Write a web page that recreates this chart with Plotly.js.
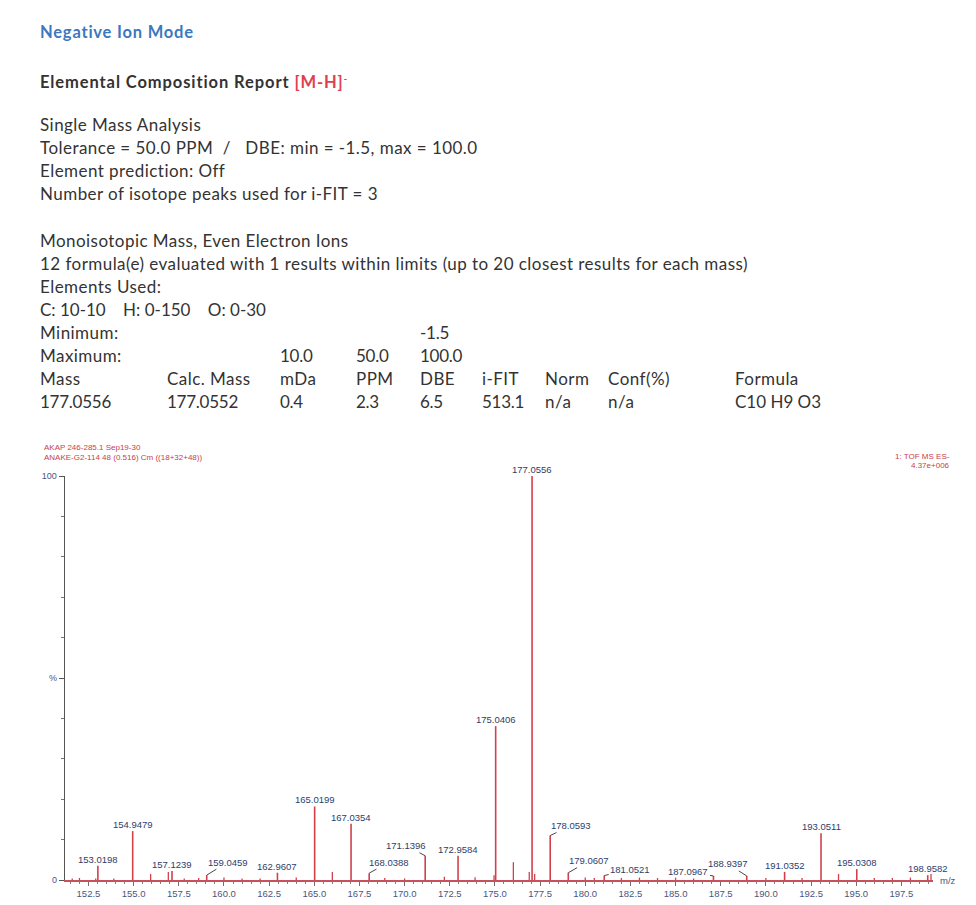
<!DOCTYPE html>
<html>
<head>
<meta charset="utf-8">
<script src="https://cdn.plot.ly/plotly-3.0.1.min.js"></script>
<style>
  html, body { margin: 0; padding: 0; background: #ffffff; }
  #page { position: relative; width: 976px; height: 905px; overflow: hidden; }
  #hdr { position: absolute; left: 0; top: 0; width: 976px; height: 430px; font-family: Lato, "Open Sans", sans-serif; color: #333; }
  .t { position: absolute; white-space: pre; font-size: 17px; line-height: 20px; letter-spacing: 0.45px; }
  #chart { position: absolute; left: 0; top: 0; width: 976px; height: 905px; }
</style>
</head>
<body>
<div id="page">
  <div id="chart"></div>
  <div id="hdr"></div>
</div>
<script>
// ---------------- data ----------------
const reportTitle = "Negative Ion Mode";
const reportHeading = "Elemental Composition Report";
const ionLabel = "[M-H]";
const infoLines = [
  "Single Mass Analysis",
  "Tolerance = 50.0 PPM  /   DBE: min = -1.5, max = 100.0",
  "Element prediction: Off",
  "Number of isotope peaks used for i-FIT = 3"
];
const infoLines2 = [
  "Monoisotopic Mass, Even Electron Ions",
  "12 formula(e) evaluated with 1 results within limits (up to 20 closest results for each mass)",
  "Elements Used:",
  "C: 10-10    H: 0-150    O: 0-30"
];
const tableMinRow = ["Minimum:", "", "", "", "-1.5", "", "", "", ""];
const tableMaxRow = ["Maximum:", "", "10.0", "50.0", "100.0", "", "", "", ""];
const tableHeader = ["Mass", "Calc. Mass", "mDa", "PPM", "DBE", "i-FIT", "Norm", "Conf(%)", "Formula"];
const tableRow = ["177.0556", "177.0552", "0.4", "2.3", "6.5", "513.1", "n/a", "n/a", "C10 H9 O3"];

const sampleLine1 = "AKAP 246-285.1 Sep19-30";
const sampleLine2 = "ANAKE-G2-114 48 (0.516) Cm ((18+32+48))";
const scanLine1 = "1: TOF MS ES-";
const scanLine2 = "4.37e+006";

// labelled peaks (m/z, relative intensity %)
const peakMz  = [153.0198, 154.9479, 157.1239, 159.0459, 162.9607, 165.0199, 167.0354, 168.0388,
                 171.1396, 172.9584, 175.0406, 177.0556, 178.0593, 179.0607, 181.0521, 187.0967,
                 188.9397, 191.0352, 193.0511, 195.0308, 198.9582];
const peakInt = [3.5, 12.1, 2.2, 1.2, 1.8, 18.2, 13.9, 1.7,
                 6.0, 6.0, 38.1, 100, 11.0, 1.8, 1.1, 1.0,
                 1.0, 2.0, 11.6, 2.7, 1.2];
// unlabelled peaks and baseline noise
const minorMz  = [151.6, 152.0, 152.9, 153.9, 155.94, 156.92, 157.8, 158.6, 160.0, 161.0, 162.0, 164.0,
                  166.0, 168.9, 170.0, 172.2, 173.9, 174.95, 176.02, 176.9, 177.2, 180.0, 180.5, 182.0,
                  183.0, 184.0, 185.0, 186.0, 190.0, 192.0, 194.02, 196.0, 197.0, 198.0, 199.14];
const minorInt = [0.4, 0.5, 0.4, 0.4, 1.5, 2.0, 0.4, 0.5, 0.6, 0.4, 0.4, 0.6,
                  2.0, 0.5, 0.4, 0.8, 0.7, 1.2, 4.4, 2.0, 1.5, 0.6, 0.5, 0.5,
                  0.6, 0.5, 0.6, 0.4, 0.5, 0.5, 1.5, 0.5, 0.5, 0.6, 1.5];

const xTickVals = [152.5, 155.0, 157.5, 160.0, 162.5, 165.0, 167.5, 170.0, 172.5, 175.0,
                   177.5, 180.0, 182.5, 185.0, 187.5, 190.0, 192.5, 195.0, 197.5];
const yTickVals = [0, 50, 100];
const yTickText = ["0", "%", "100"];

// ---------------- header (HTML text) ----------------
const hdr = document.getElementById('hdr');
function put(txt, x, y, style) {
  const d = document.createElement('div');
  d.className = 't';
  d.style.left = x + 'px';
  d.style.top = y + 'px';
  if (style) Object.assign(d.style, style);
  d.innerHTML = txt;
  hdr.appendChild(d);
  return d;
}
put(reportTitle, 40, 22, {color: '#3b78c0', fontWeight: 'bold', fontSize: '16.5px', letterSpacing: '0.8px'});
put(reportHeading + ' <span style="color:#e0404e">' + ionLabel + '<sup style="font-size:9px">-</sup></span>', 40, 68,
    {fontWeight: 'bold', fontSize: '16.5px', letterSpacing: '0.9px'});
infoLines.forEach((s, i) => put(s, 40, 115 + i * 23));
infoLines2.forEach((s, i) => put(s, 40, 231 + i * 23, i === 3 ? {letterSpacing: '0px'} : null));
const colX = [40, 167, 280, 356, 420, 482, 545, 608, 735];
[tableMinRow, tableMaxRow, tableHeader, tableRow].forEach((row, r) => {
  row.forEach((c, k) => {
    if (!c) return;
    const numeric = /^[-\d.]+$/.test(c);
    put(c, colX[k], 323 + r * 23, numeric ? {letterSpacing: '-0.25px'} : (c === 'C10 H9 O3' ? {letterSpacing: '0px'} : null));
  });
});

// ---------------- chart ----------------
const red = '#d2404c';
function sticks(xs, ys) {
  const X = [], Y = [];
  xs.forEach((x, i) => { X.push(x, x, null); Y.push(0, ys[i], null); });
  return {X, Y};
}
const major = sticks(peakMz, peakInt);
const minor = sticks(minorMz, minorInt);

const traces = [
  {x: minor.X, y: minor.Y, type: 'scatter', mode: 'lines', line: {color: red, width: 1.3}, hoverinfo: 'skip', showlegend: false, cliponaxis: false},
  {x: major.X, y: major.Y, type: 'scatter', mode: 'lines', line: {color: red, width: 1.6}, hoverinfo: 'skip', showlegend: false, cliponaxis: false}
];

// leader-line offsets (pixels) for labels placed off the peak
const leader = {
  "159.0459": [21, -13], "168.0388": [20, -11], "171.1396": [-19, -10], "178.0593": [21, -10],
  "179.0607": [21, -12], "181.0521": [26, -6], "187.0967": [-25, -4], "188.9397": [-19, -12]
};
const labColor = '#2e3d6b';
const annotations = peakMz.map((m, i) => {
  const key = m.toFixed(4);
  const base = {x: m, y: peakInt[i], xref: 'x', yref: 'y', text: key,
                font: {family: 'Liberation Sans, Arial, sans-serif', size: 9.5, color: labColor}};
  if (leader[key]) {
    return Object.assign(base, {showarrow: true, arrowhead: 0, arrowwidth: 0.9, arrowcolor: '#333',
                                ax: leader[key][0], ay: leader[key][1], standoff: 0, startstandoff: 0});
  }
  return Object.assign(base, {showarrow: false, yanchor: 'bottom', yshift: -1});
});
const smallFont = {family: 'Liberation Sans, Arial, sans-serif', size: 8, color: '#c8404c'};
annotations.push(
  {xref: 'paper', yref: 'paper', x: -0.027, y: 1.055, xanchor: 'left', yanchor: 'bottom', showarrow: false, text: sampleLine1, font: smallFont},
  {xref: 'paper', yref: 'paper', x: -0.027, y: 1.030, xanchor: 'left', yanchor: 'bottom', showarrow: false, text: sampleLine2, font: smallFont},
  {xref: 'paper', yref: 'paper', x: 1.022, y: 1.032, xanchor: 'right', yanchor: 'bottom', showarrow: false, text: scanLine1, font: smallFont},
  {xref: 'paper', yref: 'paper', x: 1.022, y: 1.009, xanchor: 'right', yanchor: 'bottom', showarrow: false, text: scanLine2, font: smallFont},
  {xref: 'paper', yref: 'paper', x: 1.006, y: 0.0, xanchor: 'left', yanchor: 'middle', showarrow: false, text: 'm/z',
   font: {family: 'Liberation Sans, Arial, sans-serif', size: 9.5, color: '#4a5580'}}
);

const layout = {
  width: 976, height: 905,
  margin: {l: 65, r: 43, t: 476, b: 25, pad: 0},
  paper_bgcolor: '#ffffff', plot_bgcolor: '#ffffff',
  showlegend: false,
  xaxis: {
    range: [151.2, 199.25], showgrid: false, zeroline: false,
    showline: true, linecolor: '#c8505a', linewidth: 2,
    tickmode: 'array', tickvals: xTickVals, ticktext: xTickVals.map(v => v.toFixed(1)),
    ticks: 'outside', ticklen: 4, tickcolor: '#7a6a70', tickwidth: 1,
    minor: {dtick: 0.5, tick0: 0, ticks: 'outside', ticklen: 2, tickcolor: '#8a7a80'},
    tickfont: {family: 'Liberation Sans, Arial, sans-serif', size: 9.5, color: '#4a5580'},
    fixedrange: true
  },
  yaxis: {
    range: [0, 100], showgrid: false, zeroline: false,
    showline: true, linecolor: '#555555', linewidth: 1.3,
    tickmode: 'array', tickvals: yTickVals, ticktext: yTickText,
    ticks: 'outside', ticklen: 5, tickcolor: '#555555', tickwidth: 1,
    minor: {dtick: 10, tick0: 0, ticks: 'outside', ticklen: 3, tickcolor: '#777777'},
    tickfont: {family: 'Liberation Sans, Arial, sans-serif', size: 9, color: '#4a5580'},
    fixedrange: true
  },
  annotations: annotations
};

Plotly.newPlot('chart', traces, layout, {displayModeBar: false, staticPlot: true});
</script>
</body>
</html>
